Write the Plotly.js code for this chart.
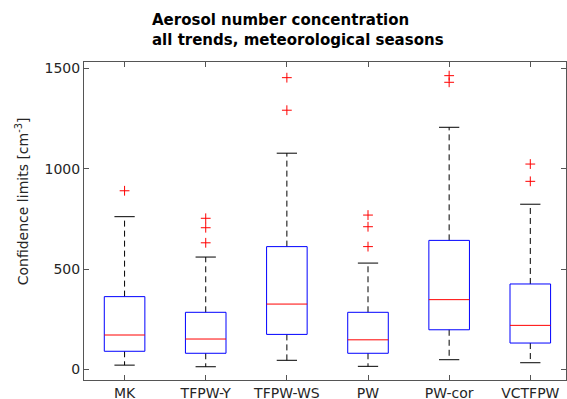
<!DOCTYPE html>
<html>
<head>
<meta charset="utf-8">
<script src="https://cdn.plot.ly/plotly-3.0.1.min.js"></script>
<style>html,body{margin:0;padding:0;background:#fff;}#chart{width:567px;height:399px;}</style>
</head>
<body>
<div id="chart"></div>
<script>
const categories = ['MK', 'TFPW-Y', 'TFPW-WS', 'PW', 'PW-cor', 'VCTFPW'];
const q1 = [91, 81, 175, 81, 198, 132];
const median = [172, 152, 326, 148, 348, 220];
const q3 = [363, 285, 612, 285, 643, 426];
const lowerWhisker = [22, 14, 46, 16, 49, 34];
const upperWhisker = [761, 560, 1077, 530, 1206, 823];
const outliers = [[890], [753, 706, 631], [1453, 1291], [769, 711, 612], [1463, 1430], [1023, 937]];
const yTicks = [0, 500, 1000, 1500];

const boxHalf = 0.25, capHalf = 0.125;
const bx = [], by = [], mx = [], my = [], wx = [], wy = [], cx = [], cy = [], ox = [], oy = [];
categories.forEach((c, i) => {
  const p = i + 1;
  bx.push(p - boxHalf, p + boxHalf, p + boxHalf, p - boxHalf, p - boxHalf, null);
  by.push(q1[i], q1[i], q3[i], q3[i], q1[i], null);
  mx.push(p - boxHalf, p + boxHalf, null);
  my.push(median[i], median[i], null);
  wx.push(p, p, null, p, p, null);
  wy.push(q3[i], upperWhisker[i], null, q1[i], lowerWhisker[i], null);
  cx.push(p - capHalf, p + capHalf, null, p - capHalf, p + capHalf, null);
  cy.push(upperWhisker[i], upperWhisker[i], null, lowerWhisker[i], lowerWhisker[i], null);
  outliers[i].forEach(v => { ox.push(p); oy.push(v); });
});

const traces = [
  {x: wx, y: wy, mode: 'lines', line: {color: '#000', width: 1, dash: '6px,4px'}, hoverinfo: 'skip'},
  {x: cx, y: cy, mode: 'lines', line: {color: '#000', width: 1}, hoverinfo: 'skip'},
  {x: bx, y: by, mode: 'lines', line: {color: '#0000ff', width: 1}, hoverinfo: 'skip'},
  {x: mx, y: my, mode: 'lines', line: {color: '#ff0000', width: 1}, hoverinfo: 'skip'},
  {x: ox, y: oy, mode: 'markers', marker: {symbol: 'cross-thin-open', size: 7, color: '#ff0000', line: {color: '#ff0000', width: 1}}, hoverinfo: 'skip'}
];

const layout = {
  width: 567, height: 399,
  margin: {l: 84, r: 1, t: 62, b: 19},
  paper_bgcolor: '#fff', plot_bgcolor: '#fff',
  showlegend: false,
  font: {family: 'DejaVu Sans', size: 14, color: '#262626'},
  title: {
    text: 'Aerosol number concentration<br>all trends, meteorological seasons',
    font: {family: 'DejaVu Sans', size: 15, color: '#000', weight: 'bold'},
    x: 152 / 567, xref: 'container', xanchor: 'left', align: 'left',
    y: 1 - 25 / 399, yref: 'container', yanchor: 'top'
  },
  xaxis: {
    range: [0.5, 6.44], tickvals: categories.map((c, i) => i + 1), ticktext: categories,
    ticks: 'inside', ticklen: 5, tickcolor: '#555', mirror: 'ticks', showline: true, linecolor: '#555', linewidth: 1,
    showgrid: false, zeroline: false, tickfont: {size: 14, color: '#262626'}
  },
  yaxis: {
    range: [-52, 1531], tickvals: yTicks,
    ticks: 'inside', ticklen: 5, tickcolor: '#555', mirror: 'ticks', showline: true, linecolor: '#555', linewidth: 1,
    showgrid: false, zeroline: false, tickfont: {size: 14, color: '#262626'}
  },
  annotations: [{
    text: 'Confidence limits [cm<sup>-3</sup>]', textangle: -90,
    xref: 'paper', x: -0.128, xanchor: 'center', yref: 'paper', y: (380 - 201) / 318, yanchor: 'middle',
    showarrow: false, font: {family: 'DejaVu Sans', size: 14, color: '#262626'}
  }]
};

Plotly.newPlot('chart', traces, layout, {staticPlot: true, displayModeBar: false});
</script>
</body>
</html>
